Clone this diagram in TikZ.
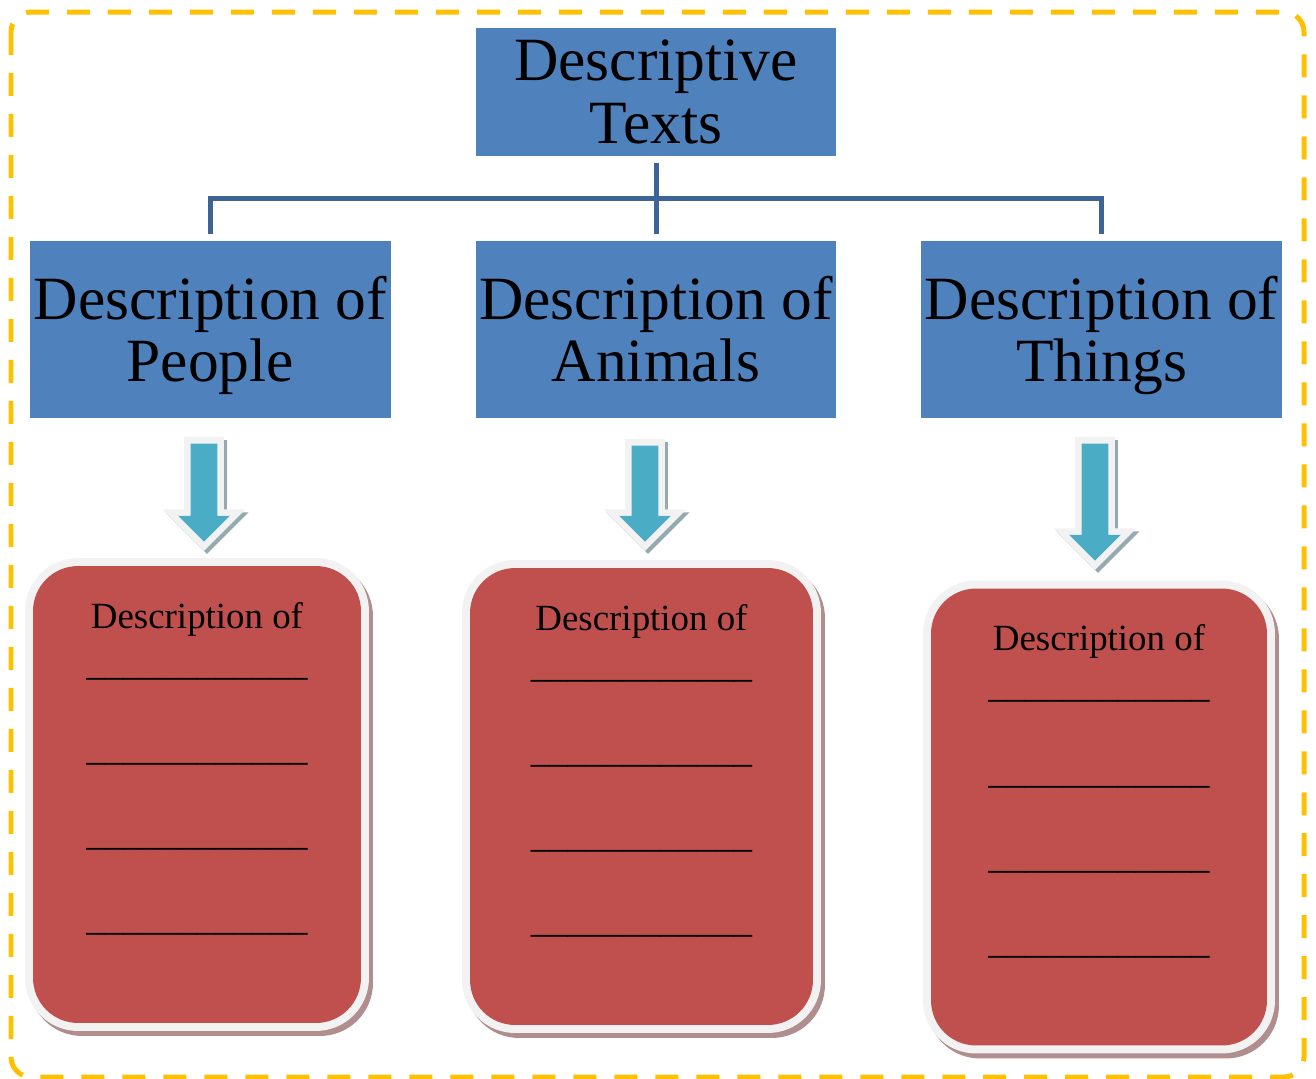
\documentclass[tikz,border=0pt]{standalone}
\usepackage{fontspec}
\setmainfont{Liberation Serif}
\usetikzlibrary{positioning, shapes.arrows}
\definecolor{frameyellow}{RGB}{255, 192, 0}
\definecolor{topblue}{RGB}{79, 129, 189}
\definecolor{linkblue}{RGB}{60, 100, 150}
\definecolor{arrowblue}{RGB}{75, 172, 198}
\definecolor{halogrey}{RGB}{242, 242, 242}
\definecolor{arrowshade}{RGB}{148, 170, 176}
\definecolor{cardred}{RGB}{192, 80, 77}
\definecolor{cardshade}{RGB}{176, 142, 142}
\newcommand\answerline{\_\_\_\_\_\_\_\_\_\_\_\_}

\begin{document}
\begin{tikzpicture}[
    x=0.02cm, y=-0.02cm,
    titlebox/.style={
        rectangle, fill=topblue,
        align=center, inner sep=0pt,
        font=\fontsize{35}{35.5}\selectfont,
        minimum width=7.2cm, minimum height=2.56cm,
    },
    catbox/.style={
        titlebox, text depth=0pt,
        minimum width=7.22cm, minimum height=3.54cm,
    },
    link/.style={draw=linkblue, line width=0.1cm},
    pointer/.style={
        single arrow, shape border rotate=270,
        fill=arrowblue, inner sep=0.26cm,
        minimum width=0.9cm, single arrow head extend=0.25cm,
        minimum height=#1,
        preaction={draw=arrowshade, fill=arrowshade, line width=0.26cm,
            transform canvas={shift={(0.06cm,-0.06cm)}}},
        preaction={draw=halogrey, line width=0.26cm},
    },
    cardbox/.style={
        rectangle, rounded corners=0.9cm,
        fill=cardred, inner sep=0pt,
        minimum width=#1, minimum height=9.14cm,
        preaction={draw=cardshade, fill=cardshade, line width=0.32cm,
            transform canvas={shift={(0.08cm,-0.1cm)}}},
        preaction={draw=halogrey, line width=0.32cm},
    },
    fillin/.style={
        align=center, inner sep=0pt,
        font=\fontsize{21}{27}\selectfont,
    },
    dashframe/.style={
        draw=frameyellow, line width=0.1cm,
        dash pattern=on 0.46cm off 0.36cm, rounded corners=0.4cm,
    },
]
\useasboundingbox (0,0) rectangle (1316,1079);

% =================================================
% Outer frame
% =================================================
\draw[dashframe] (11,12) rectangle (1304,1077);

% =================================================
% Heading and categories
% =================================================
\node[titlebox] (texts) at (656,92) {Descriptive\\Texts};

\node[catbox, below=1.68cm of texts]   (animals) {Description of\\Animals};
\node[catbox, left=1.68cm of animals]  (people)  {Description of\\People};
\node[catbox, right=1.68cm of animals] (things)  {Description of\\Things};

\coordinate (split) at (656,198);
\draw[link, shorten <=0.14cm, shorten >=0.12cm] (texts) -- (animals);
\draw[link, shorten <=0.12cm, shorten >=0.12cm] (people.north) |- (split) -| (things.north);

% =================================================
% Pointers
% =================================================
\node[pointer=1.96cm] (peoplearrow)  at (204,486)   {};
\node[pointer=1.92cm] (animalsarrow) at (645,487)   {};
\node[pointer=2.34cm] (thingsarrow)  at (1095,495.5) {};

% =================================================
% Cards to fill in
% =================================================
\node[cardbox=6.56cm] (peoplecard)  at (197,794.5)   {};
\node[cardbox=6.86cm] (animalscard) at (641.5,796.5) {};
\node[cardbox=6.72cm] (thingscard)  at (1099,817)    {};

\node[fillin, anchor=north] (peoplelines) at ([yshift=-0.72cm]peoplecard.north) {%
    Description of\\
    \answerline\\[21.4pt]
    \answerline\\[21.4pt]
    \answerline\\[21.4pt]
    \answerline%
};
\node[fillin, anchor=north] (animalslines) at ([yshift=-0.72cm]animalscard.north) {%
    Description of\\
    \answerline\\[21.4pt]
    \answerline\\[21.4pt]
    \answerline\\[21.4pt]
    \answerline%
};
\node[fillin, anchor=north] (thingslines) at ([yshift=-0.72cm]thingscard.north) {%
    Description of\\
    \answerline\\[21.4pt]
    \answerline\\[21.4pt]
    \answerline\\[21.4pt]
    \answerline%
};

\end{tikzpicture}
\end{document}
